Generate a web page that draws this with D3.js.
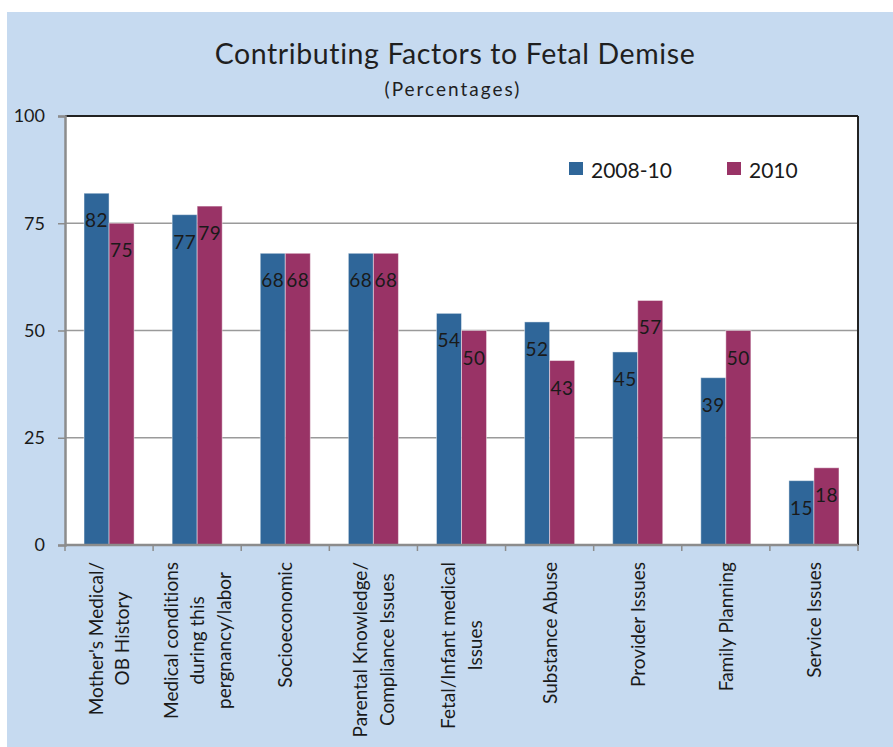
<!DOCTYPE html>
<html>
<head>
<meta charset="utf-8">
<script src="https://cdn.jsdelivr.net/npm/d3@7/dist/d3.min.js"></script>
<style>
  html, body { margin: 0; padding: 0; background: #ffffff; }
  svg { display: block; font-family: Lato, "Open Sans", sans-serif; font-variant-ligatures: none; font-feature-settings: "liga" 0, "clig" 0; }
</style>
</head>
<body>
<svg id="chart" width="893" height="747"></svg>
<script>
const categories = [
  ["Mother's Medical/", "OB History"],
  ["Medical conditions", "during this", "pergnancy/labor"],
  ["Socioeconomic"],
  ["Parental Knowledge/", "Compliance Issues"],
  ["Fetal/Infant medical", "Issues"],
  ["Substance  Abuse"],
  ["Provider Issues"],
  ["Family  Planning"],
  ["Service Issues"]
];
const seriesNames = ["2008-10", "2010"];
const values2008_10 = [82, 77, 68, 68, 54, 52, 45, 39, 15];
const values2010 = [75, 79, 68, 68, 50, 43, 57, 50, 18];
const yTicks = [0, 25, 50, 75, 100];
const colors = ["#2f6699", "#993366"];

const svg = d3.select("#chart");
const W = 893, H = 747;

svg.append("rect").attr("x", 7).attr("y", 12).attr("width", W - 7).attr("height", H - 12).attr("fill", "#c6daf0");

const plot = { left: 65, top: 116, right: 858, bottom: 545 };

svg.append("text").attr("x", 455).attr("y", 64).attr("text-anchor", "middle")
  .attr("font-size", 28.5).attr("letter-spacing", 0.6).attr("fill", "#1f1f1f").text("Contributing Factors to Fetal Demise");
svg.append("text").attr("x", 453).attr("y", 96).attr("text-anchor", "middle")
  .attr("font-size", 19).attr("letter-spacing", 2).attr("fill", "#1f1f1f").text("(Percentages)");

svg.append("rect").attr("x", plot.left).attr("y", plot.top)
  .attr("width", plot.right - plot.left).attr("height", plot.bottom - plot.top).attr("fill", "#ffffff");

const keys = categories.map((d, i) => "c" + i);
const x0 = d3.scaleBand().domain(keys).range([plot.left, plot.right]).paddingInner(0).paddingOuter(0);
const x1 = d3.scaleBand().domain(seriesNames).range([0, x0.bandwidth()]).paddingInner(0).paddingOuter(0.76);
const y = d3.scaleLinear().domain([0, 100]).range([plot.bottom, plot.top]);

svg.append("g").selectAll("line").data(yTicks.filter(t => t > 0 && t < 100)).join("line")
  .attr("x1", plot.left).attr("x2", plot.right)
  .attr("y1", d => y(d)).attr("y2", d => y(d))
  .attr("stroke", "#9a9a9a").attr("stroke-width", 1.5);

svg.append("line").attr("x1", plot.left).attr("x2", plot.right).attr("y1", plot.top).attr("y2", plot.top)
  .attr("stroke", "#222").attr("stroke-width", 2);
svg.append("line").attr("x1", plot.right).attr("x2", plot.right).attr("y1", plot.top).attr("y2", plot.bottom)
  .attr("stroke", "#222").attr("stroke-width", 2);

const data = categories.map((c, i) => ({ key: keys[i], vals: [values2008_10[i], values2010[i]] }));
const groups = svg.append("g").selectAll("g").data(data).join("g")
  .attr("transform", d => `translate(${x0(d.key)},0)`);
groups.selectAll("rect").data(d => d.vals.map((v, j) => ({ s: seriesNames[j], v, j }))).join("rect")
  .attr("x", d => x1(d.s)).attr("width", x1.bandwidth())
  .attr("y", d => y(d.v)).attr("height", d => y(0) - y(d.v))
  .attr("fill", d => colors[d.j])
  .attr("stroke", "rgba(255,255,255,0.45)").attr("stroke-width", 1);
groups.selectAll("text").data(d => d.vals.map((v, j) => ({ s: seriesNames[j], v, j }))).join("text")
  .attr("x", d => x1(d.s) + x1.bandwidth() / 2)
  .attr("y", d => y(d.v) + 34)
  .attr("text-anchor", "middle").attr("font-size", 19).attr("letter-spacing", 0.5)
  .attr("fill", "#1a1a1a").text(d => d.v);

const yAxis = d3.axisLeft(y).tickValues(yTicks).tickSize(7).tickPadding(13).tickFormat(d3.format("d"));
const gy = svg.append("g").attr("transform", `translate(${plot.left},0)`).call(yAxis);
gy.select(".domain").attr("stroke", "#8c8c8c").attr("stroke-width", 2.5);
gy.selectAll(".tick line").attr("stroke", "#8c8c8c").attr("stroke-width", 1.5);
gy.selectAll(".tick text").attr("font-size", 18).attr("fill", "#1a1a1a").attr("font-family", "Lato, sans-serif");

const boundaries = keys.map(k => x0(k)).concat([plot.right]);
const gx = svg.append("g");
gx.append("line").attr("x1", plot.left).attr("x2", plot.right).attr("y1", plot.bottom).attr("y2", plot.bottom)
  .attr("stroke", "#8c8c8c").attr("stroke-width", 2.5);
gx.selectAll("line.tk").data(boundaries).join("line").attr("class", "tk")
  .attr("x1", d => d).attr("x2", d => d).attr("y1", plot.bottom).attr("y2", plot.bottom + 6)
  .attr("stroke", "#8c8c8c").attr("stroke-width", 1.5);

const lineH = 26.5;
const labelTop = 562;
categories.forEach((lines, i) => {
  const cx = x0(keys[i]) + x0.bandwidth() / 2;
  const g = svg.append("g");
  const t = g.append("text").attr("font-size", 19).attr("fill", "#1a1a1a").attr("text-anchor", "middle");
  const n = lines.length;
  lines.forEach((ln, j) => {
    t.append("tspan").attr("x", 0).attr("y", (j - (n - 1) / 2) * lineH + 7).text(ln);
  });
  let maxLen = 0;
  t.selectAll("tspan").each(function () { maxLen = Math.max(maxLen, this.getComputedTextLength()); });
  g.attr("transform", `translate(${cx},${labelTop + maxLen / 2}) rotate(-90)`);
});

const legend = [{ name: seriesNames[0], x: 569 }, { name: seriesNames[1], x: 727 }];
legend.forEach((l, i) => {
  svg.append("rect").attr("x", l.x).attr("y", 162).attr("width", 14).attr("height", 13).attr("fill", colors[i]);
  svg.append("text").attr("x", l.x + 22).attr("y", 178).attr("font-size", 21).attr("fill", "#1a1a1a").text(l.name);
});
</script>
</body>
</html>
